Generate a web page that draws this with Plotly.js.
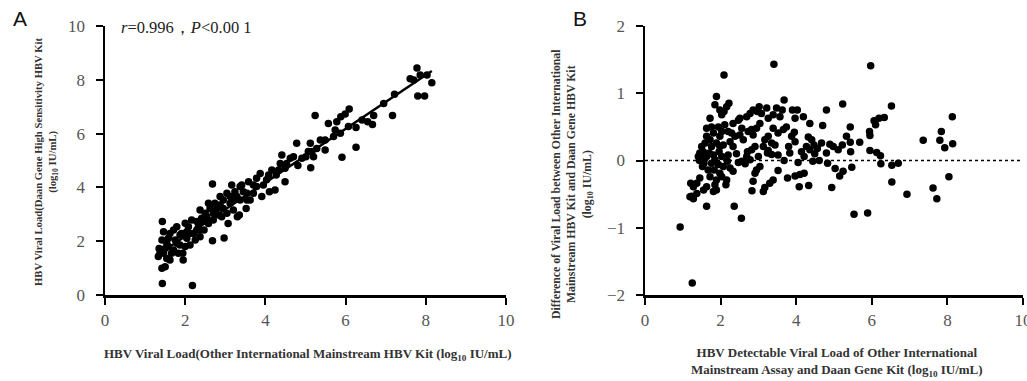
<!DOCTYPE html>
<html>
<head>
<meta charset="utf-8">
<script src="https://cdn.plot.ly/plotly-3.0.1.min.js"></script>
<style>html,body{margin:0;padding:0;background:#fff;}#chart{width:1027px;height:381px;}</style>
</head>
<body>
<div id="chart"></div>
<script>
// Panel A: correlation scatter
const corrX = [1.43,2.18,2.68,2.68,2.97,1.43,7.78,7.80,7.97,8.15,7.17,7.22,7.61,7.70,7.86,8.03,6.70,6.67,6.55,6.26,6.26,6.09,5.99,5.88,5.78,5.74,5.57,5.91,5.24,5.49,5.12,5.16,5.13,5.20,5.01,4.78,4.81,4.62,4.49,4.49,4.41,4.37,4.27,4.16,4.24,4.10,3.91,4.03,3.87,3.78,3.70,3.58,3.62,3.52,3.35,3.30,3.45,3.37,3.24,3.20,3.12,3.04,2.95,2.87,3.04,3.07,2.91,2.79,2.70,2.58,2.62,2.50,2.41,2.37,2.29,2.29,2.37,2.21,2.16,2.08,2.04,2.00,1.91,1.87,1.79,1.75,1.71,1.62,1.58,1.54,1.50,1.42,1.46,1.37,1.42,1.46,1.54,1.62,1.66,1.83,1.95,1.94,1.71,2.00,2.12,2.25,2.37,2.47,2.58,2.70,2.83,2.87,3.16,3.20,3.37,3.54,3.70,3.78,3.95,4.08,4.33,4.53,4.70,4.91,5.07,5.28,5.37,5.49,5.70,5.87,6.07,6.41,6.95,1.33,1.35,1.50,1.58,1.79,1.87,2.04,2.12,2.33,2.45,2.54,2.74,2.95,3.12,3.29,3.41,3.54];
const corrY = [0.43,0.35,4.13,2.02,2.12,2.73,8.44,7.40,7.40,7.89,6.67,7.46,8.04,7.99,8.18,8.18,6.67,6.34,6.44,5.49,6.23,6.91,6.73,6.63,6.44,6.13,6.38,5.12,6.67,5.39,5.64,5.33,4.73,5.14,5.14,5.64,4.81,5.08,4.21,4.71,5.20,4.89,4.46,4.65,3.90,3.84,3.66,4.28,4.52,4.34,4.09,4.21,3.53,3.22,2.97,2.91,3.84,4.03,3.84,3.59,3.41,3.78,3.53,3.35,3.04,2.66,2.91,3.22,3.04,3.41,3.22,3.04,2.85,3.16,2.73,2.42,2.17,2.29,2.79,2.54,2.11,1.80,2.29,1.86,2.54,2.04,1.67,2.29,1.80,1.36,1.05,0.99,1.55,1.55,2.04,2.35,1.92,1.30,1.55,1.55,1.30,1.55,2.42,2.67,1.86,2.04,2.42,2.42,2.66,2.79,2.97,3.66,4.09,3.16,3.53,3.78,3.78,4.03,4.09,4.46,4.65,4.89,5.14,5.08,5.33,5.45,5.76,5.76,5.89,6.01,6.26,6.51,7.12,1.43,1.73,1.73,2.11,1.92,2.23,2.35,2.29,2.54,2.73,2.91,3.41,3.22,3.66,3.66,4.09,3.53];
const fitX = [1.4, 8.15];
const fitY = [1.58, 8.33];

// Panel B: difference plot
const diffX = [0.93,1.25,2.09,3.41,5.97,1.63,2.36,2.55,5.53,5.89,6.93,7.62,7.72,8.04,8.13,8.14,7.36,7.84,7.80,7.93,6.52,6.53,6.70,6.53,6.24,6.33,6.19,6.06,6.10,5.94,5.95,5.95,6.13,6.23,5.68,5.23,5.43,5.44,5.43,5.47,5.24,5.15,5.03,4.94,4.80,4.70,5.33,5.22,5.11,4.98,4.89,4.80,4.67,4.56,4.49,4.61,4.44,4.83,4.36,4.32,4.41,4.47,4.27,4.33,4.08,4.21,4.10,3.97,3.77,4.05,4.21,4.19,4.03,3.90,3.97,3.95,3.97,3.80,3.68,3.68,3.52,3.63,3.57,3.48,3.39,3.26,3.22,3.74,3.66,3.52,3.39,3.26,3.44,3.26,3.52,3.35,3.24,3.39,3.30,3.17,3.13,3.02,2.97,3.08,2.86,2.78,2.69,2.51,3.04,2.95,2.82,2.73,2.86,2.56,2.51,2.60,2.91,2.82,2.71,2.69,2.56,2.47,2.65,3.00,3.04,2.95,2.91,2.86,2.83,2.42,2.33,2.25,2.38,2.29,2.47,2.33,2.20,2.33,2.25,2.18,2.16,2.14,2.22,2.16,2.09,2.03,1.98,1.89,1.85,1.94,1.98,2.07,1.96,2.03,1.94,2.07,1.98,1.89,1.85,1.81,1.89,1.72,1.76,1.81,1.72,1.76,1.70,1.81,1.76,1.67,1.72,1.63,1.55,1.59,1.63,1.50,1.45,1.54,1.41,1.50,1.44,1.56,1.45,1.37,1.28,1.21,1.23,1.28,1.37,1.19,1.63,1.52,1.63,1.85,1.89,1.98,2.03,2.11,2.20,1.83,2.03,2.78,3.13,3.17,3.35,3.88,3.83,4.14,4.36];
const diffY = [-0.99,-1.82,1.27,1.43,1.41,-0.68,-0.68,-0.86,-0.80,-0.78,-0.50,-0.41,-0.57,-0.24,0.65,0.25,0.30,0.43,0.30,0.19,0.81,-0.07,-0.04,-0.32,-0.05,0.64,0.63,0.59,0.53,0.43,0.37,0.15,0.12,0.07,0.27,0.84,0.50,0.13,0.27,-0.10,-0.16,-0.23,-0.12,-0.40,0.75,0.52,0.36,0.23,0.16,0.21,0.24,0.11,0.26,0.18,0.10,0.00,-0.01,-0.04,0.55,0.35,0.31,0.23,0.21,-0.37,-0.39,-0.19,-0.21,-0.23,-0.26,-0.03,0.06,0.65,0.75,0.75,0.63,0.42,0.28,0.21,0.90,0.00,-0.15,0.75,0.65,0.78,0.68,0.63,0.78,0.50,0.46,0.41,0.48,0.36,0.23,0.15,0.08,0.09,0.11,-0.29,-0.34,-0.40,-0.46,0.80,0.73,0.70,0.75,0.70,0.65,0.63,0.55,0.48,0.46,0.43,0.38,0.48,0.38,0.31,0.21,0.16,0.13,0.06,-0.01,-0.03,-0.05,0.06,-0.09,-0.14,-0.19,-0.31,-0.45,0.10,0.21,0.28,0.36,0.41,0.60,0.55,0.08,-0.16,-0.11,-0.01,-0.29,-0.36,0.85,0.80,0.73,0.68,0.75,0.95,0.83,0.50,0.36,0.23,0.13,0.06,-0.06,-0.09,-0.19,-0.29,-0.36,-0.46,-0.44,0.63,0.50,0.41,0.31,0.21,0.11,0.08,-0.04,-0.14,-0.24,-0.39,-0.44,0.26,0.36,0.21,0.11,0.13,0.06,0.03,0.00,-0.04,-0.26,-0.34,-0.39,-0.34,-0.53,-0.57,-0.49,-0.54,0.48,-0.09,0.06,0.01,0.26,0.21,0.43,0.53,0.43,-0.14,-0.24,0.01,0.21,0.31,0.26,0.36,0.11,0.13,0.16];
const zeroX = [0, 10];
const zeroY = [0, 0];

const tickValsA = [0, 2, 4, 6, 8, 10];
const tickValsBy = [-2, -1, 0, 1, 2];

const W = 1027, H = 381;
const px = v => v / W;
const py = v => 1 - v / H;

const markerStyle = {color: '#000', size: 7.5};
const axisFont = {family: 'Liberation Serif, Times New Roman, serif', size: 17, color: '#555'};
const baseAxis = {
  showgrid: false, zeroline: false, showline: true, linecolor: '#000', linewidth: 2.5,
  ticks: 'outside', ticklen: 7, tickwidth: 2, tickcolor: '#000', tickfont: axisFont,
  ticklabeloverflow: 'allow',
  fixedrange: true
};
const xAxisExtra = {ticklabelstandoff: 1};
const yAxisExtra = {ticklabelstandoff: 7};

const traces = [
  {x: corrX, y: corrY, xaxis: 'x', yaxis: 'y', mode: 'markers', type: 'scatter', marker: markerStyle, hoverinfo: 'skip'},
  {x: fitX, y: fitY, xaxis: 'x', yaxis: 'y', mode: 'lines', type: 'scatter', line: {color: '#000', width: 2.5}, hoverinfo: 'skip'},
  {x: zeroX, y: zeroY, xaxis: 'x2', yaxis: 'y2', mode: 'lines', type: 'scatter', line: {color: '#000', width: 1.5, dash: 'dot'}, hoverinfo: 'skip'},
  {x: diffX, y: diffY, xaxis: 'x2', yaxis: 'y2', mode: 'markers', type: 'scatter', marker: markerStyle, hoverinfo: 'skip'}
];

const titleFont = {family: 'Liberation Serif, Times New Roman, serif', color: '#333'};

const layout = {
  width: W, height: H,
  margin: {l: 0, r: 0, t: 0, b: 0},
  paper_bgcolor: '#fff', plot_bgcolor: '#fff',
  showlegend: false,
  xaxis: Object.assign({}, baseAxis, xAxisExtra, {domain: [px(105), px(506)], range: [0, 10], tickvals: tickValsA, anchor: 'y'}),
  yaxis: Object.assign({}, baseAxis, yAxisExtra, {domain: [py(295), py(26)], range: [0, 10], tickvals: tickValsA, anchor: 'x'}),
  xaxis2: Object.assign({}, baseAxis, xAxisExtra, {domain: [px(645), px(1023)], range: [0, 10], tickvals: tickValsA, anchor: 'y2'}),
  yaxis2: Object.assign({}, baseAxis, yAxisExtra, {domain: [py(295), py(26)], range: [-2, 2], tickvals: tickValsBy, anchor: 'x2'}),
  annotations: [
    {xref: 'paper', yref: 'paper', x: px(20), y: py(18), text: 'A', showarrow: false, xanchor: 'center', yanchor: 'middle',
     font: {family: 'Liberation Sans, Arial, sans-serif', size: 21, color: '#111'}},
    {xref: 'paper', yref: 'paper', x: px(580), y: py(18), text: 'B', showarrow: false, xanchor: 'center', yanchor: 'middle',
     font: {family: 'Liberation Sans, Arial, sans-serif', size: 21, color: '#111'}},
    {xref: 'paper', yref: 'paper', x: px(119), y: py(28), text: '<i>r</i>=0.996，<i>P</i>&lt;0.00 1', showarrow: false,
     xanchor: 'left', yanchor: 'middle', font: {family: 'Liberation Serif, Times New Roman, serif', size: 16.5, color: '#222'}},
    {xref: 'paper', yref: 'paper', x: px(46), y: py(162), textangle: -90, showarrow: false, xanchor: 'center', yanchor: 'middle',
     text: '<b>HBV Viral Load(Daan Gene High Sensitivity HBV Kit<br>(log<sub>10</sub> IU/mL)</b>',
     font: Object.assign({size: 10.7}, titleFont)},
    {xref: 'paper', yref: 'paper', x: px(308), y: py(354), showarrow: false, xanchor: 'center', yanchor: 'middle',
     text: '<b>HBV Viral Load(Other International Mainstream HBV Kit (log<sub>10</sub> IU/mL)</b>',
     font: Object.assign({size: 13}, titleFont)},
    {xref: 'paper', yref: 'paper', x: px(572), y: py(184), textangle: -90, showarrow: false, xanchor: 'center', yanchor: 'middle',
     text: '<b>Difference of Viral Load between Other International<br>Mainstream HBV Kit and Daan Gene HBV Kit<br>(log<sub>10</sub> IU/mL)</b>',
     font: Object.assign({size: 11.8}, titleFont)},
    {xref: 'paper', yref: 'paper', x: px(837), y: py(362), showarrow: false, xanchor: 'center', yanchor: 'middle',
     text: '<b>HBV Detectable Viral Load of Other International<br>Mainstream Assay and Daan Gene Kit (log<sub>10</sub> IU/mL)</b>',
     font: Object.assign({size: 13}, titleFont)}
  ]
};

Plotly.newPlot('chart', traces, layout, {staticPlot: true, displayModeBar: false});
</script>
</body>
</html>
